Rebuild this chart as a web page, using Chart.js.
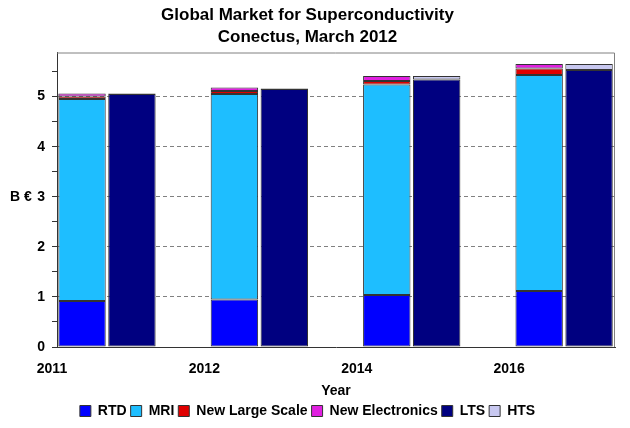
<!DOCTYPE html>
<html>
<head>
  <title>Global Market for Superconductivity</title>
  <script src="https://cdn.jsdelivr.net/npm/chart.js"></script>
  <style>
    body { margin: 0; background: #fff; }
    #wrap { width: 630px; height: 428px; }
  </style>
</head>
<body>
  <div id="wrap"><canvas id="marketChart" width="630" height="428"></canvas></div>
  <script>
    // values, billion euro
    const years = ['2011', '2012', '2014', '2016'];
    const rtd = [0.92, 0.95, 1.04, 1.12];
    const mri = [4.03, 4.10, 4.20, 4.31];
    const newLargeScale = [0.05, 0.06, 0.07, 0.13];
    const newElectronics = [0.06, 0.07, 0.10, 0.09];
    const lts = [5.05, 5.15, 5.34, 5.53];
    const hts = [0.01, 0.01, 0.07, 0.12];
    const yTicks = [0, 1, 2, 3, 4, 5];

    Chart.defaults.font.family = '"Liberation Sans", Arial, sans-serif';
    Chart.defaults.font.weight = 'bold';
    Chart.defaults.color = '#000';

    // x is linear so groups can sit at Excel-like spacing
    const pts = arr => arr.map((v, i) => ({ x: i, y: v }));

    function makeSet(label, data, color, stack) {
      return {
        label,
        data: pts(data),
        backgroundColor: color,
        borderColor: '#333',
        borderWidth: 1,
        borderSkipped: false,
        stack,
        categoryPercentage: 0.655,
        barPercentage: 0.95
      };
    }

    // y label drawn horizontally + grey frame on top/right
    const extras = {
      id: 'extras',
      afterDatasetsDraw(chart) {
        const { ctx, chartArea: a, scales } = chart;
        ctx.save();
        ctx.strokeStyle = '#808080';
        ctx.lineWidth = 1;
        ctx.beginPath();
        ctx.moveTo(a.left, a.top + 0.5);
        ctx.lineTo(a.right - 0.5, a.top + 0.5);
        ctx.lineTo(a.right - 0.5, a.bottom);
        ctx.stroke();
        ctx.font = 'bold 14px "Liberation Sans", Arial, sans-serif';
        ctx.fillStyle = '#000';
        ctx.textAlign = 'left';
        ctx.textBaseline = 'middle';
        ctx.fillText('B €', 10, scales.y.getPixelForValue(3));
        ctx.restore();
      }
    };

    new Chart(document.getElementById('marketChart'), {
      type: 'bar',
      data: {
        datasets: [
          makeSet('RTD', rtd, '#0000ff', 'demand'),
          makeSet('MRI', mri, '#1ebeff', 'demand'),
          makeSet('New Large Scale', newLargeScale, '#e00000', 'demand'),
          makeSet('New Electronics', newElectronics, '#e020e0', 'demand'),
          makeSet('LTS', lts, '#000080', 'supply'),
          makeSet('HTS', hts, '#c8c8f0', 'supply')
        ]
      },
      options: {
        responsive: false,
        animation: false,
        layout: { padding: { top: 2, right: 15, bottom: 0, left: 0 } },
        plugins: {
          title: {
            display: true,
            text: ['Global Market for Superconductivity', 'Conectus, March 2012'],
            font: { size: 17, weight: 'bold', lineHeight: 1.25 },
            padding: { top: 3, bottom: 5 }
          },
          legend: {
            position: 'bottom',
            labels: {
              boxWidth: 11,
              boxHeight: 11,
              padding: 4,
              font: { size: 14, weight: 'bold' }
            }
          },
          tooltip: { enabled: false }
        },
        scales: {
          x: {
            type: 'linear',
            stacked: true,
            offset: false,
            min: -0.328,
            max: 3.334,
            afterFit(scale) { scale.height = 53; },
            grid: { display: false, drawTicks: false },
            border: { color: '#333' },
            ticks: {
              stepSize: 1,
              includeBounds: false,
              autoSkip: false,
              maxRotation: 0,
              padding: 14,
              labelOffset: -55,
              font: { size: 14, weight: 'bold' },
              callback: v => Number.isInteger(v) && years[v] ? years[v] : null
            },
            title: {
              display: true,
              text: 'Year',
              font: { size: 14, weight: 'bold' },
              padding: { top: 0, bottom: 0 }
            }
          },
          y: {
            stacked: true,
            min: 0,
            max: 5.88,
            afterFit(scale) { scale.width = 57; },
            border: { color: '#333', dash: ctx => (ctx.tick && ctx.tick.value > 0 ? [4, 3] : []) },
            grid: {
              color: ctx => (ctx.tick && yTicks.includes(ctx.tick.value) && ctx.tick.value > 0 ? '#808080' : 'rgba(0,0,0,0)'),
              tickColor: '#333',
              tickLength: 5
            },
            ticks: {
              stepSize: 0.5,
              includeBounds: false,
              padding: 7,
              font: { size: 14, weight: 'bold' },
              callback: v => {
                if (yTicks.includes(v)) return String(v);
                return v * 2 === Math.round(v * 2) ? '' : null;
              }
            }
          }
        }
      },
      plugins: [extras]
    });
  </script>
</body>
</html>
